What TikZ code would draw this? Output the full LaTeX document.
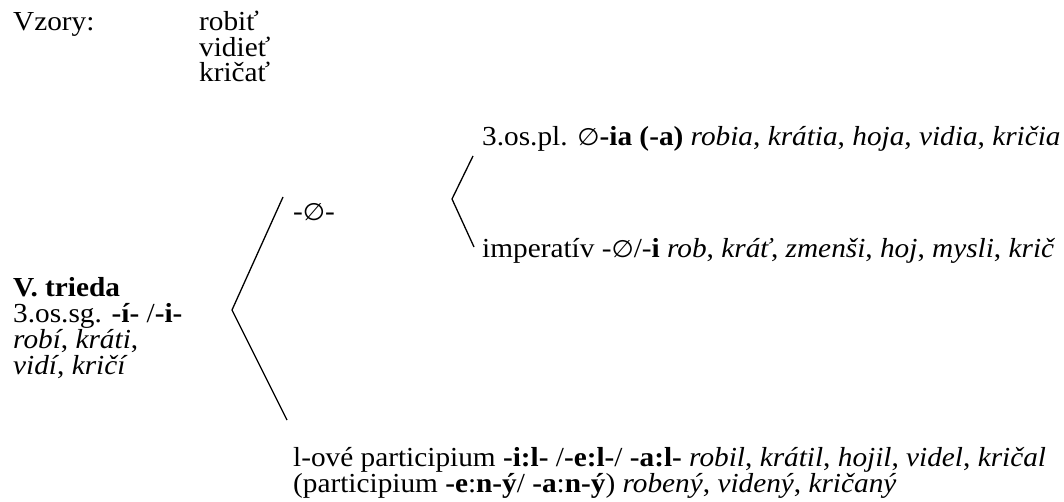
\documentclass[tikz,border=0pt]{standalone}
\usepackage{fontspec}
\setmainfont{Liberation Serif}[FakeStretch=1.065]
\newfontfamily\symf{DejaVu Sans}[FakeStretch=1.065]
\newcommand{\emp}{{\symf\fontsize{24}{25}\selectfont ∅}}
\begin{document}
\begin{tikzpicture}[x=1pt,y=-1pt,
  txt/.style={anchor=base west,inner sep=0pt,font=\fontsize{27.5}{25.5}\selectfont},
  br/.style={line width=1.3pt}]
\useasboundingbox (0,0) rectangle (1064,502);
\node[txt] (vz) at (13,31) {Vzory:};
\node[txt] (v1) at (199,31) {robiť};
\node[txt] (v2) at (199,57) {vidieť};
\node[txt] (v3) at (199,82) {kričať};
\node[txt] (pl) at (482,146) {3.os.pl. \emp\textbf{-ia (-a)} \textit{robia}, \textit{krátia}, \textit{hoja}, \textit{vidia}, \textit{kričia}};
\node[txt] (imp) at (482,258) {imperatív -\emp/-\textbf{i} \textit{rob}, \textit{kráť}, \textit{zmenši}, \textit{hoj}, \textit{mysli}, \textit{krič}};
\node[txt] (zero) at (293,221) {-\emp-};
\node[txt] (tr) at (13,296) {\textbf{V. trieda}};
\node[txt] (sg) at (13,322) {3.os.sg. \textbf{-í-} /\textbf{-i-}};
\node[txt] (ex1) at (13,348) {\textit{robí}, \textit{kráti},};
\node[txt] (ex2) at (13,374) {\textit{vidí}, \textit{kričí}};
\node[txt] (lp) at (293,466) {l-ové participium \textbf{-i:l-} /\textbf{-e:l-}/ \textbf{-a:l-} \textit{robil}, \textit{krátil}, \textit{hojil}, \textit{videl}, \textit{kričal}};
\node[txt] (np) at (293,492) {(participium \textbf{-e}:\textbf{n-ý}/ \textbf{-a}:\textbf{n-ý}) \textit{robený}, \textit{videný}, \textit{kričaný}};
\coordinate (a1) at (283,197);
\coordinate (b1) at (232,310);
\coordinate (c1) at (287,420);
\coordinate (a2) at (473,156);
\coordinate (b2) at (452,199);
\coordinate (c2) at (474,247);
\draw[br] (a1) -- (b1) -- (c1);
\draw[br] (a2) -- (b2) -- (c2);
\end{tikzpicture}
\end{document}
